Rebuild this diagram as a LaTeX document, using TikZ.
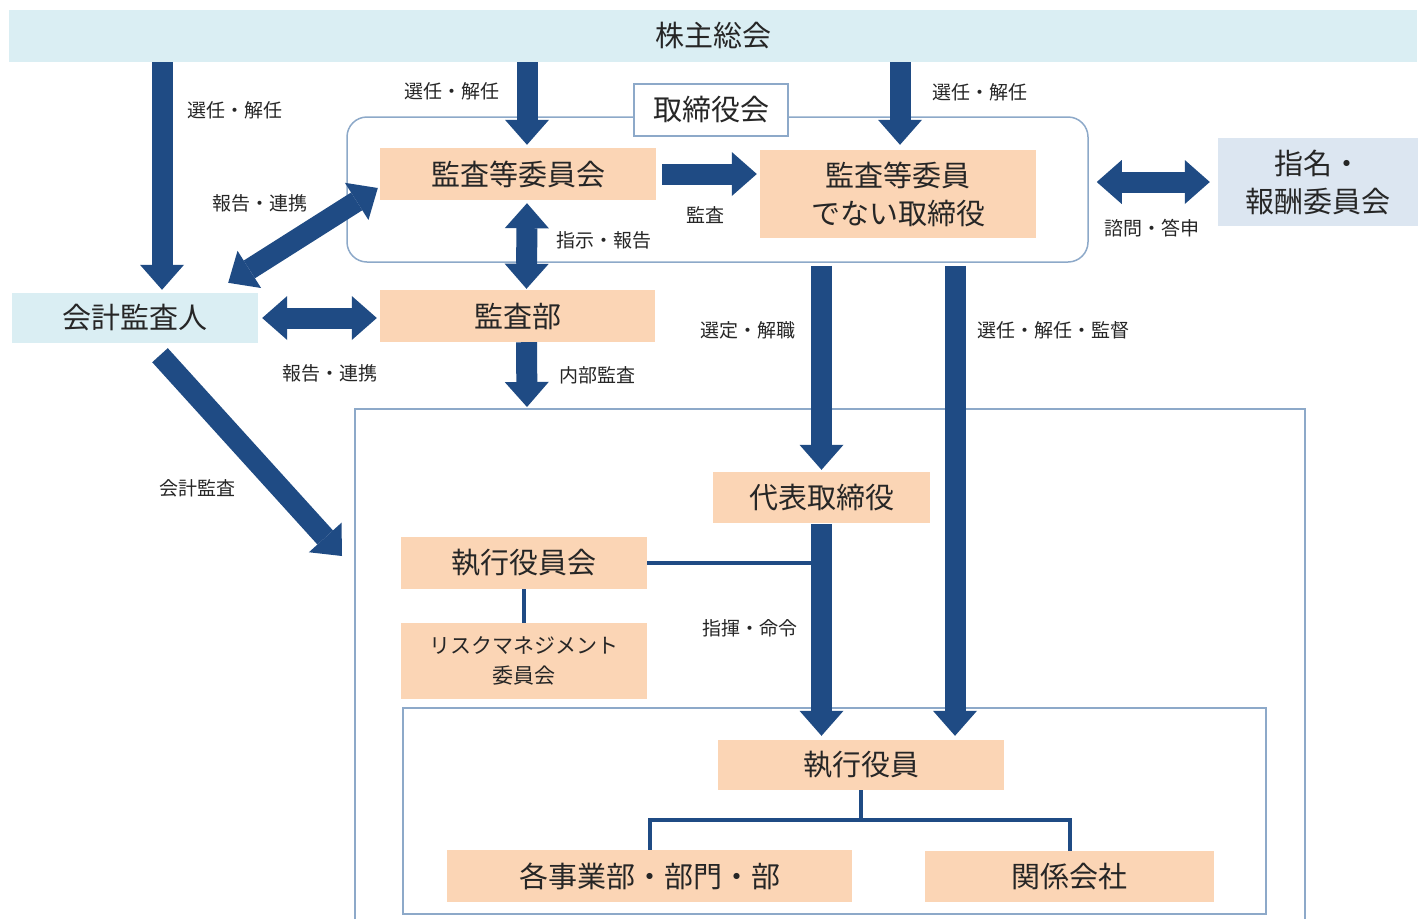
\documentclass[tikz,border=0pt]{standalone}
\usepackage{fontspec}
\setmainfont{Noto Sans CJK JP}
\usetikzlibrary{arrows.meta}
\definecolor{peach}{HTML}{FBD5B5}
\definecolor{pale}{HTML}{DAEEF3}
\definecolor{paleblue}{HTML}{DCE6F1}
\definecolor{navy}{HTML}{1F4B84}
\definecolor{frameline}{HTML}{8DA9C9}
\definecolor{ink}{HTML}{262626}

\begin{document}
\begin{tikzpicture}[x=1pt,y=-1pt,
    every node/.style={inner sep=0pt,text=ink},
    org/.style={fill=peach,font=\fontsize{29}{38}\selectfont,align=center},
    ext/.style={fill=pale,font=\fontsize{29}{38}\selectfont,align=center},
    tag/.style={font=\fontsize{19}{22}\selectfont},
    frame/.style={draw=frameline,line width=1.5pt},
    block/.style={draw=navy,line width=21pt,-{Triangle[width=44pt,length=25pt,line width=0pt]}},
    twoway/.style={draw=navy,line width=21pt,{Triangle[width=44pt,length=25pt,line width=0pt]}-{Triangle[width=44pt,length=25pt,line width=0pt]}},
    link/.style={draw=navy,line width=4pt}
]
    \path[use as bounding box,fill=white] (0,0) rectangle (1418,919);

    \node[ext,minimum width=1408pt,minimum height=52pt] (kabu) at (713,36) {株主総会};
    \node[frame,rounded corners=20pt,minimum width=741pt,minimum height=145pt] (board) at (717.5,189.5) {};
    \node[frame,fill=white,minimum width=154pt,minimum height=52pt,font=\fontsize{29}{34}\selectfont] (torikai) at (711,110) {取締役会};
    \node[org,minimum width=276pt,minimum height=52pt] (kansa) at (518,174) {監査等委員会};
    \node[org,minimum width=276pt,minimum height=88pt] (hikansa) at (898,194) {監査等委員\\でない取締役};
    \node[org,minimum width=275pt,minimum height=52pt] (kansabu) at (517.5,316) {監査部};
    \node[ext,minimum width=246pt,minimum height=50pt] (kaikei) at (135,318) {会計監査人};
    \node[ext,fill=paleblue,minimum width=200pt,minimum height=88pt] (shimei) at (1318,182) {指名・\\報酬委員会};

    \draw[frame] (355,919) -- (355,409) -- (1305,409) -- (1305,919);
    \draw[frame] (403,708) rectangle (1266,914);
    \coordinate (naibu) at (527,407);
    \coordinate (kansaend) at (342,556);

    \node[org,minimum width=217pt,minimum height=51pt] (daihyo) at (821.5,497.5) {代表取締役};
    \node[org,minimum width=246pt,minimum height=52pt] (shikkokai) at (524,563) {執行役員会};
    \node[org,minimum width=246pt,minimum height=76pt,font=\fontsize{21}{30}\selectfont] (risk) at (524,661) {リスクマネジメント\\委員会};
    \node[org,minimum width=286pt,minimum height=50pt] (shikko) at (861,765) {執行役員};
    \node[org,minimum width=405pt,minimum height=52pt] (kaku) at (649.5,876) {各事業部・部門・部};
    \node[org,minimum width=289pt,minimum height=51pt] (kankei) at (1069.5,876.5) {関係会社};

    \draw[link] (shikkokai.east) -- (shikkokai.east -| daihyo.south);
    \draw[link] (shikkokai.south) -- (risk.north);
    \draw[link] (shikko.south) -- ++(0,30) coordinate (fork);
    \draw[link] (kaku.north) |- (fork) -| (kankei.north);

    \draw[block] ([xshift=27pt]kaikei.north |- kabu.south) -- ([xshift=27pt,yshift=3pt]kaikei.north);
    \draw[block] ([xshift=9pt]kansa.north |- kabu.south) -- ([xshift=9pt,yshift=3pt]kansa.north);
    \draw[block] ([xshift=2pt]hikansa.north |- kabu.south) -- ([xshift=2pt,yshift=5pt]hikansa.north);
    \draw[block] ([xshift=6pt]kansa.east) -- ([xshift=-3pt]kansa.east -| hikansa.west);
    \draw[twoway] ([xshift=9pt,yshift=-3pt]kansa.south) -- ([xshift=9pt,yshift=1pt]kansabu.north);
    \draw[twoway] ([xshift=-2pt,yshift=-14pt]kansa.west) -- ([xshift=-30pt,yshift=10pt]kaikei.north east);
    \draw[twoway] ([xshift=4pt]kaikei.east) -- ([xshift=-3pt]kaikei.east -| kansabu.west);
    \draw[block] ([xshift=9pt]kansabu.south) -- (naibu);
    \draw[block] ([xshift=25pt,yshift=-12pt]kaikei.south) -- (kansaend);
    \draw[twoway] ([xshift=8pt]board.east |- shimei.west) -- ([xshift=-8pt]shimei.west);
    \draw[block] ([yshift=-3pt]daihyo.north |- board.south) -- ([yshift=2pt]daihyo.north);
    \draw[block] ([xshift=94pt,yshift=-3pt]shikko.north |- board.south) -- ([xshift=94pt,yshift=4pt]shikko.north);
    \draw[block] ([yshift=-1pt]daihyo.south) -- ([yshift=4pt]shikko.north -| daihyo.south);

    \node[tag] (sen1) at (235,110) {選任・解任};
    \node[tag] (sen2) at (452,91) {選任・解任};
    \node[tag] (sen3) at (980,92) {選任・解任};
    \node[tag] (ren1) at (260,203) {報告・連携};
    \node[tag] (kansatag) at (705,215) {監査};
    \node[tag] (shiji) at (604,240) {指示・報告};
    \node[tag] (shimon) at (1152,228) {諮問・答申};
    \node[tag] (ren2) at (330,373) {報告・連携};
    \node[tag] (naibutag) at (597,375) {内部監査};
    \node[tag] (sentei) at (748,330) {選定・解職};
    \node[tag] (kantoku) at (1053,330) {選任・解任・監督};
    \node[tag] (kaikeitag) at (197,488) {会計監査};
    \node[tag] (shiki) at (750,628) {指揮・命令};
\end{tikzpicture}
\end{document}
